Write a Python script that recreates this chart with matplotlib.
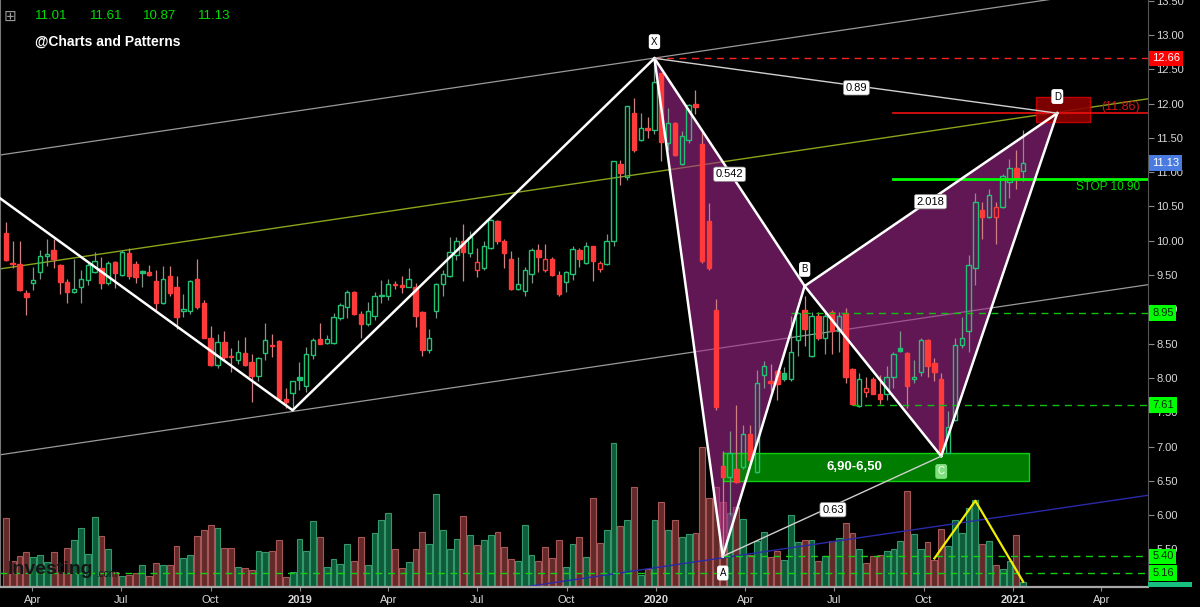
import numpy as np
import pandas as pd
import matplotlib
matplotlib.use('Agg')
import matplotlib.pyplot as plt
import matplotlib.dates as mdates
from matplotlib.patches import Rectangle, Polygon
from matplotlib.transforms import blended_transform_factory

plt.rcParams['font.family'] = ['Liberation Sans', 'DejaVu Sans']

# weekly candles, first week 2018-03-05
first_week = '2018-03-05'
opens = [
    10.11, 9.68, 9.66, 9.24, 9.39, 9.55, 9.78, 9.87, 9.65, 9.40,
    9.26, 9.33, 9.43, 9.55, 9.60, 9.39, 9.69, 9.50, 9.82, 9.66,
    9.56, 9.55, 9.42, 9.09, 9.49, 9.33, 8.98, 8.98, 9.45, 9.09,
    8.58, 8.19, 8.53, 8.32, 8.26, 8.37, 8.24, 8.03, 8.37, 8.48,
    8.54, 7.69, 7.78, 8.02, 7.88, 8.34, 8.57, 8.51, 8.51, 8.88,
    9.03, 9.26, 8.93, 8.78, 8.90, 9.19, 9.19, 9.37, 9.36, 9.33,
    9.33, 8.96, 8.41, 8.98, 9.37, 9.48, 9.79, 9.99, 9.82, 9.57,
    9.60, 9.89, 10.29, 10.00, 9.74, 9.29, 9.27, 9.51, 9.87, 9.58,
    9.74, 9.50, 9.40, 9.51, 9.87, 9.67, 9.92, 9.59, 9.66, 9.99,
    11.12, 10.93, 11.87, 11.47, 11.64, 11.61, 12.44, 11.43, 11.72, 11.12,
    11.47, 12.00, 11.41, 10.29, 8.99, 6.71, 6.56, 6.68, 6.70, 7.19,
    6.63, 8.05, 7.96, 8.10, 8.07, 7.98, 8.55, 8.99, 8.32, 8.91,
    8.58, 8.96, 8.68, 8.94, 8.13, 7.59, 7.79, 7.98, 7.77, 7.77,
    8.02, 8.43, 8.37, 7.98, 8.08, 8.56, 8.22, 7.98, 6.91, 7.39,
    8.48, 8.68, 9.60, 10.45, 10.34, 10.34, 10.49, 10.86, 11.06, 11.01,
]
highs = [
    10.28, 10.00, 10.00, 9.28, 9.62, 9.87, 10.02, 10.02, 9.66, 9.45,
    9.74, 9.57, 9.67, 9.83, 9.77, 9.71, 9.71, 9.86, 9.90, 9.70,
    9.57, 9.65, 9.58, 9.63, 9.63, 9.49, 9.22, 9.43, 9.74, 9.14,
    8.76, 8.64, 8.68, 8.43, 8.56, 8.60, 8.35, 8.31, 8.80, 8.64,
    8.55, 7.85, 7.96, 8.24, 8.45, 8.58, 8.80, 8.63, 8.95, 9.10,
    9.28, 9.27, 8.98, 9.11, 9.26, 9.43, 9.45, 9.42, 9.48, 9.60,
    9.38, 8.97, 8.72, 9.38, 9.57, 10.06, 10.05, 10.24, 10.14, 9.89,
    9.99, 10.32, 10.31, 10.03, 9.85, 9.76, 9.62, 9.89, 9.95, 9.95,
    9.77, 9.56, 9.56, 9.92, 9.90, 9.98, 9.93, 9.71, 10.10, 11.17,
    11.18, 11.97, 12.08, 11.87, 11.80, 12.66, 12.45, 11.93, 11.73, 11.60,
    12.00, 12.20, 11.63, 10.55, 9.15, 6.93, 7.23, 7.61, 7.31, 7.31,
    8.11, 8.25, 8.21, 8.11, 8.16, 8.91, 8.96, 9.19, 8.96, 8.96,
    8.96, 8.99, 8.96, 9.02, 8.15, 8.07, 8.01, 8.02, 8.04, 8.17,
    8.38, 8.68, 8.38, 8.26, 8.59, 8.57, 8.29, 8.07, 7.52, 8.59,
    8.89, 9.79, 10.70, 10.57, 10.75, 10.57, 10.98, 11.19, 11.33, 11.61,
]
lows = [
    9.70, 9.61, 9.27, 8.92, 9.28, 9.44, 9.63, 9.61, 9.22, 9.10,
    9.24, 9.10, 9.36, 9.53, 9.29, 9.36, 9.31, 9.49, 9.45, 9.38,
    9.33, 9.49, 8.99, 9.08, 9.19, 8.72, 8.89, 8.93, 9.01, 8.58,
    8.17, 8.14, 8.26, 8.09, 8.21, 8.18, 7.65, 7.95, 8.26, 8.31,
    7.68, 7.56, 7.53, 7.82, 7.80, 8.27, 8.49, 8.49, 8.50, 8.85,
    8.88, 8.92, 8.59, 8.76, 8.85, 9.10, 9.14, 9.29, 9.24, 9.32,
    8.75, 8.32, 8.36, 8.88, 9.19, 9.47, 9.72, 9.42, 9.77, 9.47,
    9.57, 9.88, 9.95, 9.61, 9.28, 9.28, 9.19, 9.39, 9.54, 9.55,
    9.49, 9.20, 9.26, 9.43, 9.62, 9.66, 9.42, 9.54, 9.64, 9.92,
    10.82, 10.89, 11.30, 11.45, 11.50, 11.55, 11.16, 11.32, 11.23, 11.10,
    11.43, 11.85, 9.68, 9.58, 7.53, 5.40, 6.00, 6.47, 6.68, 6.79,
    6.61, 7.85, 7.81, 7.68, 7.96, 7.96, 8.32, 8.47, 8.31, 8.56,
    8.35, 8.35, 8.38, 7.93, 7.61, 7.58, 7.72, 7.76, 7.62, 7.68,
    7.85, 8.38, 7.56, 7.92, 8.03, 8.02, 7.95, 6.86, 6.90, 7.38,
    8.44, 8.38, 9.36, 10.02, 10.33, 9.95, 10.48, 10.62, 10.76, 10.87,
]
closes = [
    9.72, 9.66, 9.28, 9.18, 9.43, 9.78, 9.81, 9.73, 9.40, 9.26,
    9.29, 9.44, 9.65, 9.70, 9.39, 9.67, 9.53, 9.83, 9.49, 9.47,
    9.53, 9.50, 9.09, 9.45, 9.24, 8.89, 9.00, 9.42, 9.03, 8.59,
    8.19, 8.53, 8.31, 8.30, 8.38, 8.19, 8.03, 8.29, 8.55, 8.47,
    7.69, 7.65, 7.95, 7.97, 8.35, 8.55, 8.50, 8.57, 8.89, 9.07,
    9.25, 8.93, 8.79, 8.98, 9.20, 9.20, 9.37, 9.35, 9.33, 9.44,
    8.91, 8.41, 8.59, 9.37, 9.51, 9.83, 9.99, 9.84, 10.05, 9.69,
    9.92, 10.30, 9.99, 9.82, 9.29, 9.37, 9.58, 9.87, 9.77, 9.74,
    9.50, 9.23, 9.54, 9.88, 9.73, 9.92, 9.70, 9.67, 9.99, 11.16,
    10.99, 11.96, 11.32, 11.64, 11.62, 12.32, 11.44, 11.72, 11.25, 11.53,
    11.98, 11.95, 9.70, 9.60, 7.57, 6.56, 6.91, 6.49, 7.19, 6.81,
    7.93, 8.18, 7.93, 7.91, 7.98, 8.38, 8.94, 8.72, 8.91, 8.58,
    8.91, 8.68, 8.91, 8.01, 7.62, 7.98, 7.86, 7.77, 7.69, 8.02,
    8.35, 8.40, 7.88, 8.01, 8.56, 8.17, 8.09, 6.90, 7.29, 8.48,
    8.59, 9.65, 10.56, 10.34, 10.67, 10.49, 10.94, 11.06, 10.90, 11.13,
]
# volume (relative units)
volume = [
    69, 26, 31, 35, 30, 32, 25, 35, 15, 39,
    47, 59, 33, 70, 51, 38, 15, 11, 12, 14,
    22, 11, 24, 22, 22, 41, 29, 32, 51, 57,
    62, 59, 39, 39, 20, 19, 17, 36, 35, 36,
    47, 10, 15, 48, 36, 66, 50, 20, 28, 23,
    43, 26, 50, 22, 54, 67, 74, 38, 19, 25,
    38, 55, 43, 93, 57, 38, 48, 71, 52, 42,
    47, 52, 55, 40, 28, 26, 62, 32, 26, 40,
    29, 47, 20, 43, 50, 30, 89, 44, 57, 144,
    61, 67, 100, 12, 18, 67, 85, 57, 67, 50,
    53, 54, 140, 89, 100, 85, 74, 80, 68, 32,
    46, 55, 30, 36, 27, 72, 45, 47, 47, 26,
    31, 46, 49, 64, 54, 38, 24, 31, 32, 36,
    38, 46, 96, 53, 38, 45, 27, 58, 41, 67,
    54, 79, 87, 43, 46, 22, 18, 26, 52, 5,
]

# harmonic pattern points X A B C D
pattern_dates = ['2019-12-30', '2020-03-09', '2020-06-01', '2020-10-19', '2021-02-15']
pattern_prices = [12.66, 5.40, 9.34, 6.86, 11.86]
pattern_names = ['X', 'A', 'B', 'C', 'D']
# zigzag leading into X
zigzag_dates = ['2018-02-27', '2018-12-24', '2019-12-30']
zigzag_prices = [10.62, 7.53, 12.66]
# channel lines (start, end)
chan_dates = ['2018-02-27', '2021-05-19']
chan_upper = [11.25, 13.73]
chan_mid = [9.59, 12.07]
chan_lower = [6.88, 9.36]
blue_dates = ['2019-08-17', '2021-05-19']
blue_prices = [4.95, 6.29]
# yellow volume swing
yellow_dates = ['2020-10-12', '2020-11-23', '2021-01-11']
yellow_prices = [5.37, 6.21, 5.03]

header_vals = ['11.01', '11.61', '10.87', '11.13']

weeks = pd.date_range(first_week, periods=len(closes), freq='7D')
x = mdates.date2num(weeks)
o = np.array(opens); h = np.array(highs); l = np.array(lows); c = np.array(closes)
prev = np.r_[o[0], c[:-1]]
up = c >= prev
hollow = c > o

GREEN = '#22c274'
RED = '#ff3a3a'

fig = plt.figure(figsize=(12, 6.07), dpi=100, facecolor='black')
ax = fig.add_axes([0, 20 / 607, 1148 / 1200, 587 / 607])
axv = ax.twinx()
axv.set_zorder(0)
ax.set_zorder(1)
ax.patch.set_visible(False)
axv.patch.set_facecolor('black')

# volume
vface = ['#0f5c3a' if u else '#642a2a' for u in up]
vedge = ['#34996a' if u else '#a85656' for u in up]
axv.bar(x, volume, width=6.0, color=vface, edgecolor=vedge, linewidth=0.8)
axv.set_ylim(0, 587)
axv.set_yticks([])
for s in axv.spines.values():
    s.set_visible(False)

d = lambda s: mdates.datestr2num(s)

# channel lines
cd = [d(s) for s in chan_dates]
ax.plot(cd, chan_upper, color='#9a9a9a', lw=0.9, zorder=2)
ax.plot(cd, chan_lower, color='#9a9a9a', lw=0.9, zorder=2)
ax.plot(cd, chan_mid, color='#8aa51c', lw=1.0, zorder=2)
ax.plot([d(s) for s in blue_dates], blue_prices, color='#2a2aa8', lw=1.0, zorder=2)

# pattern fill
px = [d(s) for s in pattern_dates]
py = pattern_prices
ax.add_patch(Polygon([(px[0], py[0]), (px[1], py[1]), (px[2], py[2])], closed=True,
                     fc='#a3288c', ec='none', alpha=0.6, zorder=2.5))
ax.add_patch(Polygon([(px[2], py[2]), (px[3], py[3]), (px[4], py[4])], closed=True,
                     fc='#a3288c', ec='none', alpha=0.6, zorder=2.5))

# zones
ax.add_patch(Rectangle((d('2020-03-09'), 6.50), d('2021-01-17') - d('2020-03-09'), 0.40,
                       fc='#008a00', ec='#10e010', lw=1.0, alpha=0.9, zorder=3))
ax.add_patch(Rectangle((d('2021-01-24'), 11.73), d('2021-03-21') - d('2021-01-24'), 0.37,
                       fc='#8a0000', ec='#d00000', lw=1.0, alpha=0.9, zorder=3))

# level lines
xr = d('2021-05-19')
ax.plot([px[0], xr], [12.66, 12.66], color='#ff2020', lw=1.0, ls=(0, (5, 4)), zorder=4.5)
ax.plot([d('2020-08-31'), xr], [11.86, 11.86], color='#ee1010', lw=1.2, zorder=4.5)
ax.plot([d('2020-08-31'), xr], [10.90, 10.90], color='#00ff00', lw=2.0, zorder=4.5)
ax.plot([d('2020-05-18'), xr], [8.95, 8.95], color='#10c010', lw=1.0, ls=(0, (5, 4)), zorder=4.5)
ax.plot([d('2020-07-20'), xr], [7.61, 7.61], color='#10c010', lw=1.0, ls=(0, (5, 4)), zorder=4.5)
ax.plot([px[1], xr], [5.40, 5.40], color='#10d010', lw=1.0, ls=(0, (5, 4)), zorder=4.5)
ax.plot([d('2018-02-27'), xr], [5.16, 5.16], color='#10d010', lw=1.0, ls=(0, (5, 4)), zorder=4.5)

# candles
wick_col = ['#7d9688' if u else '#d08080' for u in up]
ax.vlines(x, l, np.minimum(o, c), colors=wick_col, lw=0.9, zorder=3.5)
ax.vlines(x, np.maximum(o, c), h, colors=wick_col, lw=0.9, zorder=3.5)
body_edge = [GREEN if u else RED for u in up]
body_face = ['none' if hw else (GREEN if u else RED) for u, hw in zip(up, hollow)]
ax.bar(x, np.maximum(np.abs(c - o), 0.015), bottom=np.minimum(o, c), width=4.5,
       color=body_face, edgecolor=body_edge, linewidth=1.0, zorder=4)

# pattern lines
ax.plot([d(s) for s in zigzag_dates], zigzag_prices, color='white', lw=1.8, zorder=5)
for i, j in [(0, 1), (1, 2), (0, 2), (2, 3), (3, 4), (2, 4)]:
    ax.plot([px[i], px[j]], [py[i], py[j]], color='white', lw=1.8, zorder=5)
ax.plot([px[0], px[4]], [py[0], py[4]], color='#d0d0d0', lw=1.0, zorder=5)
ax.plot([px[1], px[3]], [py[1], py[3]], color='#d0d0d0', lw=1.0, zorder=5)
ax.plot([d(s) for s in yellow_dates], yellow_prices, color='#f0f000', lw=1.6, zorder=5)

ratio_box = dict(boxstyle='round,pad=0.2', fc='white', ec='#888888', lw=0.5)
for txt, ds, pv in [('0.89', '2020-07-24', 12.23), ('0.542', '2020-03-16', 10.97),
                    ('2.018', '2020-10-08', 10.57), ('0.63', '2020-06-30', 6.08)]:
    ax.text(d(ds), pv, txt, fontsize=8, color='black', ha='center', va='center',
            bbox=ratio_box, zorder=7)

offsets = [12, -12, 12, -11, 12]
for name, xx, yy, off in zip(pattern_names, px, py, offsets):
    fc = '#80e080' if name == 'C' else 'white'
    tc = 'white' if name == 'C' else 'black'
    ax.annotate(name, (xx, yy), xytext=(0, off), textcoords='offset points',
                ha='center', va='center', fontsize=7, color=tc, zorder=8,
                bbox=dict(boxstyle='round,pad=0.25', fc=fc, ec='none'))

ax.text(d('2020-07-22'), 6.70, '6,90-6,50', color='white', fontsize=9.5,
        fontweight='bold', ha='center', va='center', zorder=7)
ax.text(0.993, 11.95, '(11.86)', transform=blended_transform_factory(ax.transAxes, ax.transData),
        color='#d01818', fontsize=9, ha='right', va='center', zorder=7)
ax.text(0.993, 10.79, 'STOP 10.90', transform=blended_transform_factory(ax.transAxes, ax.transData),
        color='#00e000', fontsize=8.5, ha='right', va='center', zorder=7)

# axes styling
ax.set_xlim(d('2018-02-27'), d('2021-05-19'))
ax.set_ylim(4.953, 13.51)
ax.yaxis.tick_right()
ax.set_yticks(np.arange(5.5, 13.51, 0.5))
ax.set_yticklabels([f'{v:.2f}' for v in np.arange(5.5, 13.51, 0.5)])
ax.tick_params(axis='y', colors='#8a8a8a', labelcolor='#d8d8d8', labelsize=8, length=4, pad=2)
months = pd.date_range('2018-04-01', '2021-04-01', freq='QS')
ax.set_xticks(mdates.date2num(months))
ax.set_xticklabels([m.strftime('%Y') if m.month == 1 else m.strftime('%b') for m in months])
ax.tick_params(axis='x', colors='#8a8a8a', labelcolor='#d8d8d8', labelsize=8, length=3, pad=3)
for lab, m in zip(ax.get_xticklabels(), months):
    if m.month == 1:
        lab.set_fontweight('bold')
ax.spines['top'].set_visible(False)
ax.spines['left'].set_color('#777777')
ax.spines['right'].set_color('#555555')
ax.spines['bottom'].set_color('#a8a8a8')
ax.spines['bottom'].set_linewidth(1.6)

tr = blended_transform_factory(ax.transAxes, ax.transData)
side = [(12.66, '#ff0000', 'white'), (11.13, '#4a7be0', 'white'), (8.95, '#00ff00', '#0a2a0a'),
        (7.61, '#00ff00', '#0a2a0a'), (5.40, '#00ff00', '#0a2a0a'), (5.16, '#00ff00', '#0a2a0a')]
for val, fc, tc in side:
    ax.annotate(f'{val:.2f}', (1.0, val), xycoords=tr, xytext=(3, 0), textcoords='offset points',
                ha='left', va='center', fontsize=8, color=tc, annotation_clip=False, zorder=10,
                bbox=dict(boxstyle='square,pad=0.25', fc=fc, ec='none'))
fig.patches.append(Rectangle((1148 / 1200, 20 / 607), 44 / 1200, 5.5 / 607,
                             transform=fig.transFigure, fc='#18c080', ec='none'))

# header
fig.text(10 / 1200, 1 - 16 / 607, '⊞', color='#9a9a9a', fontsize=11, ha='center', va='center',
         family='DejaVu Sans')
for val, xp in zip(header_vals, [35, 90, 143, 198]):
    fig.text(xp / 1200, 1 - 16 / 607, val, color='#00dd00', fontsize=9.5, ha='left', va='center')
fig.text(35 / 1200, 1 - 42 / 607, '@Charts and Patterns', color='white', fontsize=10,
         fontweight='bold', ha='left', va='center')
fig.text(8 / 1200, 1 - 570 / 607, 'Investing', color='#151515', fontsize=14, fontweight='bold',
         ha='left', va='center')
fig.text(96 / 1200, 1 - 574 / 607, '.com', color='#151515', fontsize=7, ha='left', va='center')

fig.savefig('out.png', dpi=100, facecolor='black')
